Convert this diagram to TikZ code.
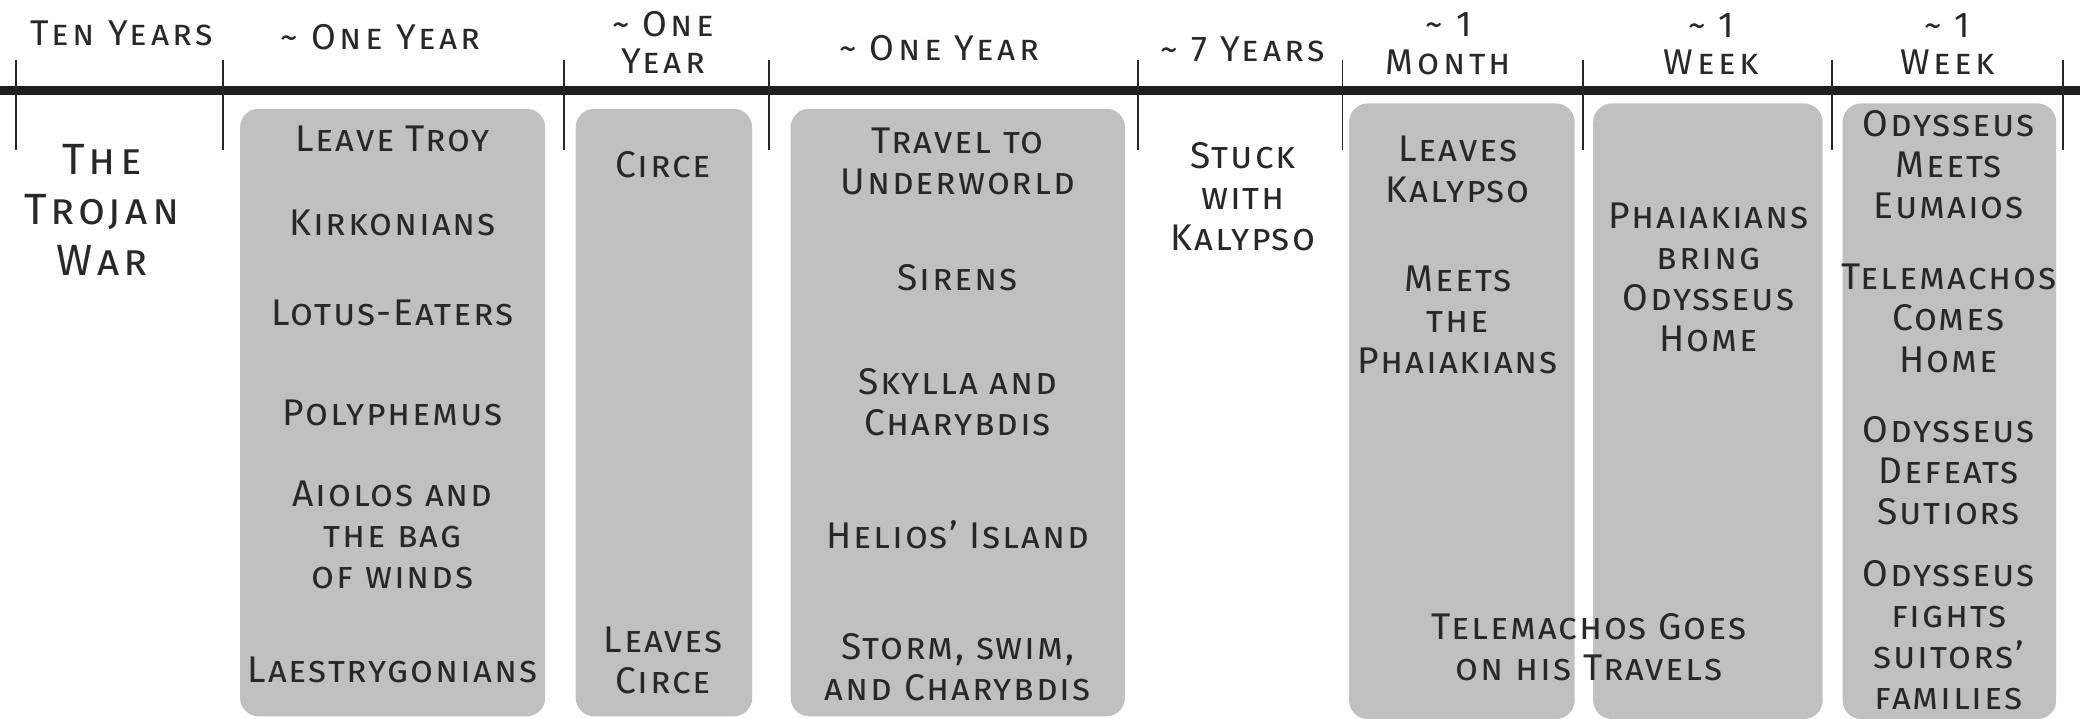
\documentclass[tikz,border=0pt]{standalone}
\usepackage{fontspec}
\setmainfont{Fira Sans}[Letters=SmallCaps]
\definecolor{boxgray}{RGB}{192,192,192}
\definecolor{inkgray}{RGB}{40,40,40}
\begin{document}
\begin{tikzpicture}[x=1pt,y=-1pt,
  lab/.style={font=\fontsize{28}{31}\selectfont\addfontfeatures{LetterSpace=5}, align=center, inner sep=0pt, text=inkgray},
  head/.style={lab, font=\fontsize{27}{28}\selectfont\addfontfeatures{LetterSpace=10}},
  big/.style={lab, font=\fontsize{33}{38}\selectfont\addfontfeatures{LetterSpace=10}},
  gbox/.style={fill=boxgray, rounded corners=14pt},
  tickmark/.style={line width=1.4pt, draw=inkgray},
  axis/.style={line width=7pt, draw=black!88}]
\useasboundingbox (0,0) rectangle (1568,542);
% grey boxes
\path[gbox] (181,82) rectangle (411,540);
\path[gbox] (434,82) rectangle (567,540);
\path[gbox] (596,82) rectangle (848,540);
\path[gbox] (1017,78) rectangle (1187,542);
\path[gbox] (1201,78) rectangle (1374,542);
\path[gbox] (1389,78) rectangle (1550,542);
% axis
\coordinate (aL) at (0,68);
\coordinate (aR) at (1568,68);
\draw[axis] (aL) -- (aR);
\foreach \x in {12,168,425,580,858,1012,1193,1381,1555}
  \draw[tickmark] (\x,45) -- (\x,113);
% headers
\node[head] (h1) at (92,25) {Ten Years};
\node[head] (h2) at (287,28) {\textasciitilde{} One Year};
\node[head] (h3) at (500,32) {\textasciitilde{} One\\Year};
\node[head] (h4) at (708,36) {\textasciitilde{} One Year};
\node[head] (h5) at (937,37) {\textasciitilde{} 7 Years};
\node[head] (h6) at (1092,33) {\textasciitilde{} 1\\Month};
\node[head] (h7) at (1290,33) {\textasciitilde{} 1\\Week};
\node[head] (h8) at (1468,33) {\textasciitilde{} 1\\Week};
% trojan war
\node[big] (tw) at (77,158) {The\\Trojan\\War};
% box 1
\node[lab] (b1a) at (296,105) {Leave Troy};
\node[lab] (b1b) at (296,168) {Kirkonians};
\node[lab] (b1c) at (296,236) {Lotus-Eaters};
\node[lab] (b1d) at (296,311) {Polyphemus};
\node[lab] (b1e) at (296,403) {Aiolos and\\the bag\\of winds};
\node[lab] (b1f) at (296,505) {Laestrygonians};
% box 2
\node[lab] (b2a) at (500,124) {Circe};
\node[lab] (b2b) at (500,498) {Leaves\\Circe};
% box 3
\node[lab] (b3a) at (722,122) {Travel to\\Underworld};
\node[lab] (b3b) at (722,209) {Sirens};
\node[lab] (b3c) at (722,303) {Skylla and\\Charybdis};
\node[lab] (b3d) at (722,403) {Helios’ Island};
\node[lab] (b3e) at (722,503) {Storm, swim,\\and Charybdis};
% kalypso
\node[lab] (k) at (937,148) {Stuck\\with\\Kalypso};
% box 4
\node[lab] (b4a) at (1099,128) {Leaves\\Kalypso};
\node[lab] (b4b) at (1099,241) {Meets\\the\\Phaiakians};
% box 5
\node[lab] (b5a) at (1288,209) {Phaiakians\\bring\\Odysseus\\Home};
% telemachos travels
\node[lab] (tt) at (1198,488) {Telemachos Goes\\on his Travels};
% box 6
\node[lab] (b6a) at (1469,124) {Odysseus\\Meets\\Eumaios};
\node[lab] (b6b) at (1469,240) {Telemachos\\Comes\\Home};
\node[lab] (b6c) at (1469,355) {Odysseus\\Defeats\\Sutiors};
\node[lab] (b6d) at (1469,479) {Odysseus\\fights\\suitors’\\families};
\end{tikzpicture}
\end{document}
